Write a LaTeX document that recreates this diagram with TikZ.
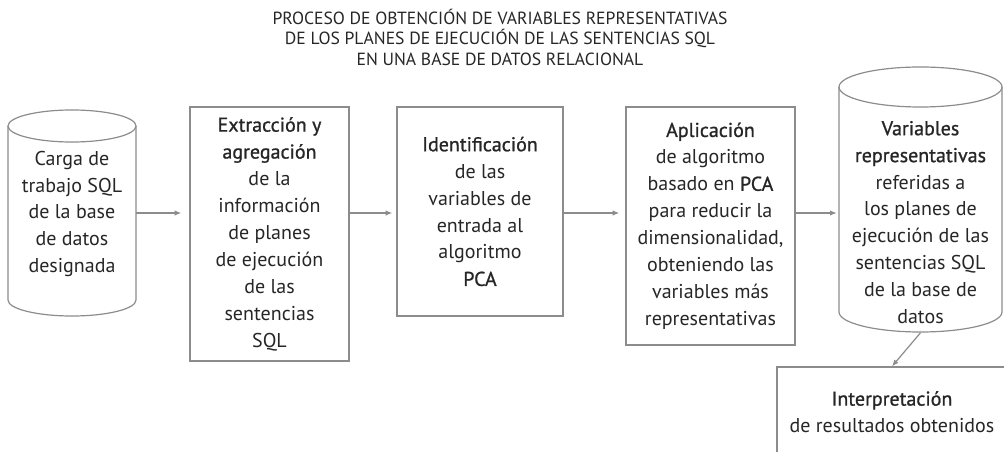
\documentclass[tikz,border=0pt]{standalone}
\usepackage{fontspec}
\setmainfont{PT Sans}
\newfontfamily\medfont{PT Sans}[FakeBold=1]
\usepackage{tikz}
\usetikzlibrary{arrows.meta}
\usepackage{xcolor}
\definecolor{linegray}{HTML}{8C8C8C}
\definecolor{inkgray}{HTML}{262626}

\begin{document}
\begin{tikzpicture}[x=0.75pt,y=0.75pt,yscale=-1,xscale=1,
  font=\fontsize{15}{20.2}\selectfont,
  txt/.style={text=inkgray, align=center, inner sep=0pt},
  stage/.style={txt, draw=linegray, line width=0.9pt},
  flow/.style={draw=linegray, line width=0.9pt, -{Latex[length=5pt,width=4pt]}},
  canline/.style={linegray, line width=0.9pt}]
\useasboundingbox (0,0) rectangle (1004,452);

% Text Node
\node (title) [txt, font=\fontsize{13.2}{15.4}\selectfont] at (500,37) {PROCESO DE OBTENCIÓN DE VARIABLES REPRESENTATIVAS\\DE LOS PLANES DE EJECUCIÓN DE LAS SENTENCIAS SQL\\EN UNA BASE DE DATOS RELACIONAL};

%Shape: Can
\draw [canline] (8,126) -- (8,300) arc (180:0:64 and 16) -- (136,126) ;
\draw [canline] (72,126) ellipse (64 and 16) ;
% Text Node
\node (carga) [txt, minimum width=96pt, minimum height=154.5pt] at (72,214) {Carga de\\trabajo SQL\\de la base\\de datos\\designada};

%Shape: Rectangle
\node (extrac) [stage, minimum width=119.25pt, minimum height=190.5pt] at (269.5,234) {{\medfont Extracción y}\\{\medfont agregación}\\de la\\información\\de planes\\de ejecución\\de las\\sentencias\\SQL};

%Shape: Rectangle
\node (ident) [stage, minimum width=124.5pt, minimum height=156.75pt] at (480,211.5) {{\medfont Identificación}\\de las\\variables de\\entrada al\\algoritmo\\{\medfont PCA}};

%Shape: Rectangle
\node (aplic) [stage, minimum width=126.75pt, minimum height=178.5pt] at (710.5,226) {{\medfont Aplicación}\\de algoritmo\\basado en {\medfont PCA}\\para reducir la\\dimensionalidad,\\obteniendo las\\variables más\\representativas};

%Shape: Can
\draw [canline] (839,87) -- (839,312) arc (180:0:81.5 and 20) -- (1002,87) ;
\draw [canline] (920.5,87) ellipse (81.5 and 20) ;
\node (vars) [txt, minimum width=122.25pt, minimum height=198.75pt] at (920.5,200) {};
% Text Node
\node (varstxt) [txt] at (920.5,222.5) {{\medfont Variables}\\{\medfont representativas}\\referidas a\\los planes de\\ejecución de las\\sentencias SQL\\de la base de\\datos};

%Shape: Rectangle
\node (interp) [stage, minimum width=172.5pt, minimum height=67.5pt] at (892,412) {{\medfont Interpretación}\\de resultados obtenidos};

%Straight Lines
\draw [flow, shorten >=6pt] (carga.east |- 0,213) -- (extrac.west |- 0,213) ;
\draw [flow, shorten >=3pt] (extrac.east |- 0,213) -- (ident.west |- 0,213) ;
\draw [flow, shorten >=4.5pt] (ident.east |- 0,213) -- (aplic.west |- 0,213) ;
\draw [flow, shorten >=1.5pt] (aplic.east |- 0,213) -- (vars.west |- 0,213) ;
\draw [flow] (vars.south) -- (interp.north) ;

\end{tikzpicture}
\end{document}
